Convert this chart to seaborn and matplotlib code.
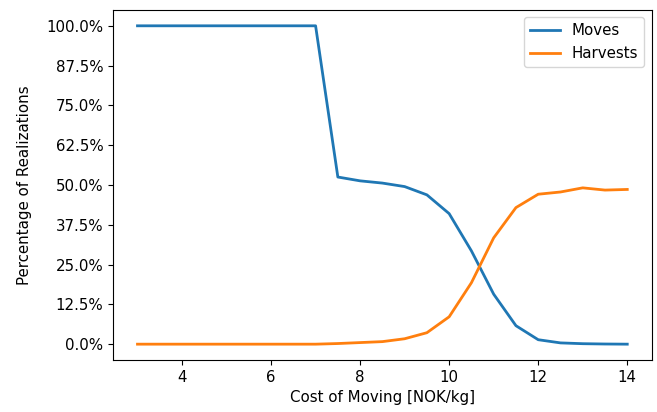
import numpy as np
import pandas as pd
import matplotlib
matplotlib.use("Agg")
import matplotlib.pyplot as plt
import seaborn as sns
from matplotlib.ticker import PercentFormatter, MultipleLocator

# cost of moving [NOK/kg]
cost = [3.0, 3.5, 4.0, 4.5, 5.0, 5.5, 6.0, 6.5, 7.0, 7.5, 8.0, 8.5, 9.0,
        9.5, 10.0, 10.5, 11.0, 11.5, 12.0, 12.5, 13.0, 13.5, 14.0]
# percentage of realizations
moves = [100, 100, 100, 100, 100, 100, 100, 100, 100, 52.5, 51.3, 50.6, 49.5,
         46.9, 41.0, 29.3, 15.7, 5.8, 1.4, 0.4, 0.15, 0.05, 0.0]
harvests = [0, 0, 0, 0, 0, 0, 0, 0, 0, 0.2, 0.5, 0.8, 1.7,
            3.6, 8.6, 19.3, 33.4, 42.9, 47.1, 47.8, 49.1, 48.4, 48.6]

df = pd.DataFrame({"cost": cost, "Moves": moves, "Harvests": harvests})
long = df.melt(id_vars="cost", var_name="series", value_name="pct")

plt.rcParams["font.size"] = 10.8
fig = plt.figure(figsize=(6.57, 4.12), dpi=100)
ax = fig.add_axes([0.172, 0.126, 0.820, 0.850])

sns.lineplot(data=long, x="cost", y="pct", hue="series",
             palette=["#1f77b4", "#ff7f0e"], linewidth=2, ax=ax)

ax.yaxis.set_major_locator(MultipleLocator(12.5))
ax.yaxis.set_major_formatter(PercentFormatter(decimals=1))
ax.set_xlabel("Cost of Moving [NOK/kg]")
ax.set_ylabel("Percentage of Realizations", labelpad=10)
ax.legend(title=None, loc="upper right")

fig.savefig("out.png", dpi=100)
